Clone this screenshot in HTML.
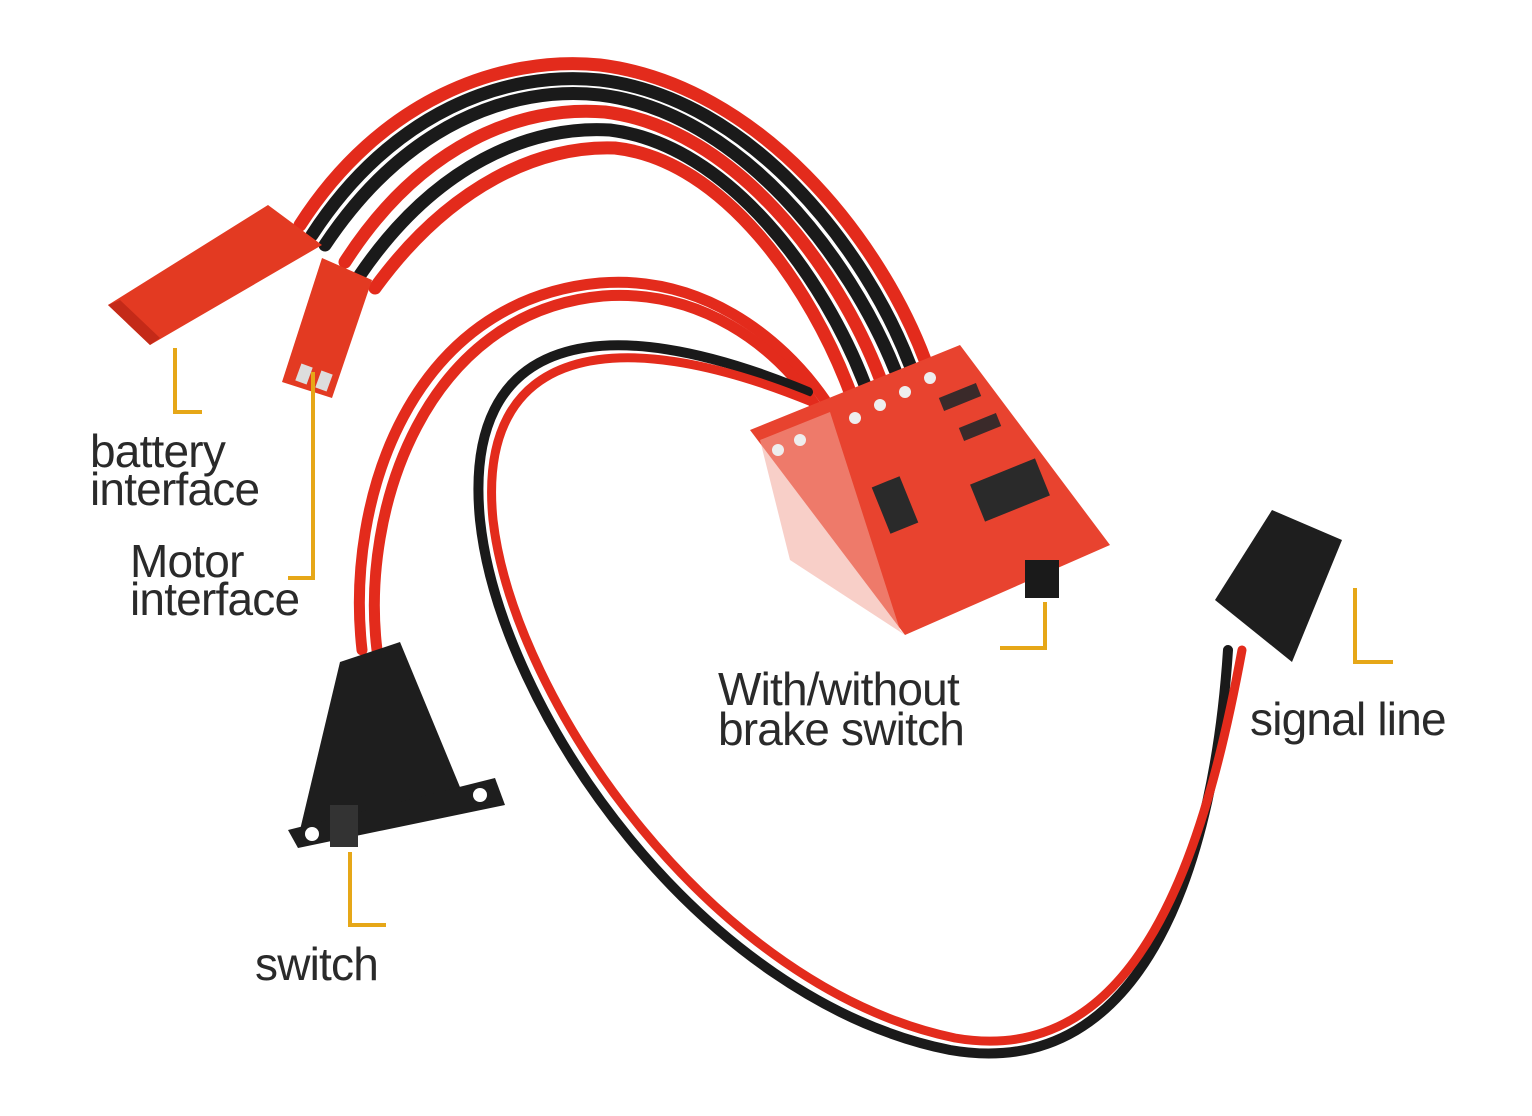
<!DOCTYPE html>
<html><head><meta charset="utf-8"><style>
html,body{margin:0;padding:0;background:#fff;}
svg{display:block;}
text{font-family:"Liberation Sans",sans-serif;fill:#2a2a2a;font-size:46px;letter-spacing:-0.8px;}
</style></head><body>
<svg width="1532" height="1116" viewBox="0 0 1532 1116" xmlns="http://www.w3.org/2000/svg">
<rect width="1532" height="1116" fill="#fff"/>
<g fill="none" stroke-linecap="round">
<!-- top bundle -->
<path d="M300 225 C380 100,500 55,600 65 C760 85,880 240,925 360" stroke="#e32b1c" stroke-width="13"/>
<path d="M312 235 C392 112,505 70,600 80 C750 98,865 248,910 365" stroke="#1a1a1a" stroke-width="13"/>
<path d="M325 245 C405 125,510 85,600 95 C740 112,850 258,895 370" stroke="#1a1a1a" stroke-width="13"/>
<path d="M345 262 C420 145,520 105,605 112 C735 128,838 268,880 378" stroke="#e32b1c" stroke-width="13"/>
<path d="M360 275 C435 165,530 125,610 130 C730 145,825 280,865 385" stroke="#1a1a1a" stroke-width="13"/>
<path d="M375 288 C450 185,540 145,615 148 C725 160,812 290,850 392" stroke="#e32b1c" stroke-width="13"/>
<!-- switch wires -->
<path d="M362 650 C345 500,410 300,600 283 C700 275,780 335,825 400" stroke="#e32b1c" stroke-width="11"/>
<path d="M377 650 C360 510,425 312,603 296 C700 289,775 345,815 405" stroke="#e32b1c" stroke-width="11"/>
<!-- signal loop -->
<path d="M808 392 C600 305,462 335,480 520 C500 710,700 1000,950 1050 C1150 1085,1215 850,1228 650" stroke="#1a1a1a" stroke-width="10"/>
<path d="M812 402 C612 320,476 348,493 520 C514 702,714 988,955 1038 C1140 1070,1205 850,1242 650" stroke="#e32b1c" stroke-width="9"/>
</g>
<!-- battery connector -->
<polygon points="108,305 268,205 322,245 150,345" fill="#e33a22"/>
<polygon points="108,305 150,345 160,338 120,300" fill="#c42a18"/>
<!-- motor connector -->
<polygon points="322,258 372,280 332,398 282,382" fill="#e33a22"/>
<rect x="298" y="365" width="12" height="18" fill="#ddd" transform="rotate(20 304 374)"/>
<rect x="318" y="372" width="12" height="18" fill="#ddd" transform="rotate(20 324 381)"/>
<!-- PCB -->
<polygon points="750,430 960,345 1110,545 905,635" fill="#e8432f"/>
<polygon points="760,440 830,412 900,630 905,635 790,560" fill="#f3a79a" opacity="0.55"/>
<rect x="975" y="470" width="70" height="40" fill="#2a2a2a" transform="rotate(-22 1010 490)"/>
<rect x="880" y="480" width="30" height="50" fill="#2a2a2a" transform="rotate(-22 895 505)"/>
<rect x="940" y="390" width="40" height="14" fill="#3a2a2a" transform="rotate(-22 960 397)"/>
<rect x="960" y="420" width="40" height="14" fill="#3a2a2a" transform="rotate(-22 980 427)"/>
<circle cx="930" cy="378" r="6" fill="#eee"/><circle cx="905" cy="392" r="6" fill="#eee"/><circle cx="880" cy="405" r="6" fill="#eee"/><circle cx="855" cy="418" r="6" fill="#eee"/><circle cx="800" cy="440" r="6" fill="#eee"/><circle cx="778" cy="450" r="6" fill="#eee"/>
<rect x="1025" y="560" width="34" height="38" fill="#1a1a1a"/>
<!-- power switch -->
<polygon points="340,662 400,642 462,792 300,830" fill="#1e1e1e"/>
<polygon points="288,830 495,778 505,805 298,848" fill="#1e1e1e"/>
<circle cx="480" cy="795" r="7" fill="#fff"/><circle cx="312" cy="834" r="7" fill="#fff"/>
<rect x="330" y="805" width="28" height="42" fill="#333"/>
<!-- servo connector -->
<polygon points="1215,600 1272,510 1342,540 1292,662" fill="#1e1e1e"/>
<!-- leader lines -->
<g stroke="#e6a718" stroke-width="4" fill="none">
<polyline points="175,348 175,412 202,412"/>
<polyline points="313,372 313,578 288,578"/>
<polyline points="350,852 350,925 386,925"/>
<polyline points="1045,602 1045,648 1000,648"/>
<polyline points="1355,588 1355,662 1393,662"/>
</g>
<text x="90" y="467">battery</text>
<text x="90" y="505">interface</text>
<text x="130" y="577">Motor</text>
<text x="130" y="615">interface</text>
<text x="255" y="980">switch</text>
<text x="718" y="705">With/without</text>
<text x="718" y="745">brake switch</text>
<text x="1250" y="735">signal line</text>
</svg>
</body></html>
